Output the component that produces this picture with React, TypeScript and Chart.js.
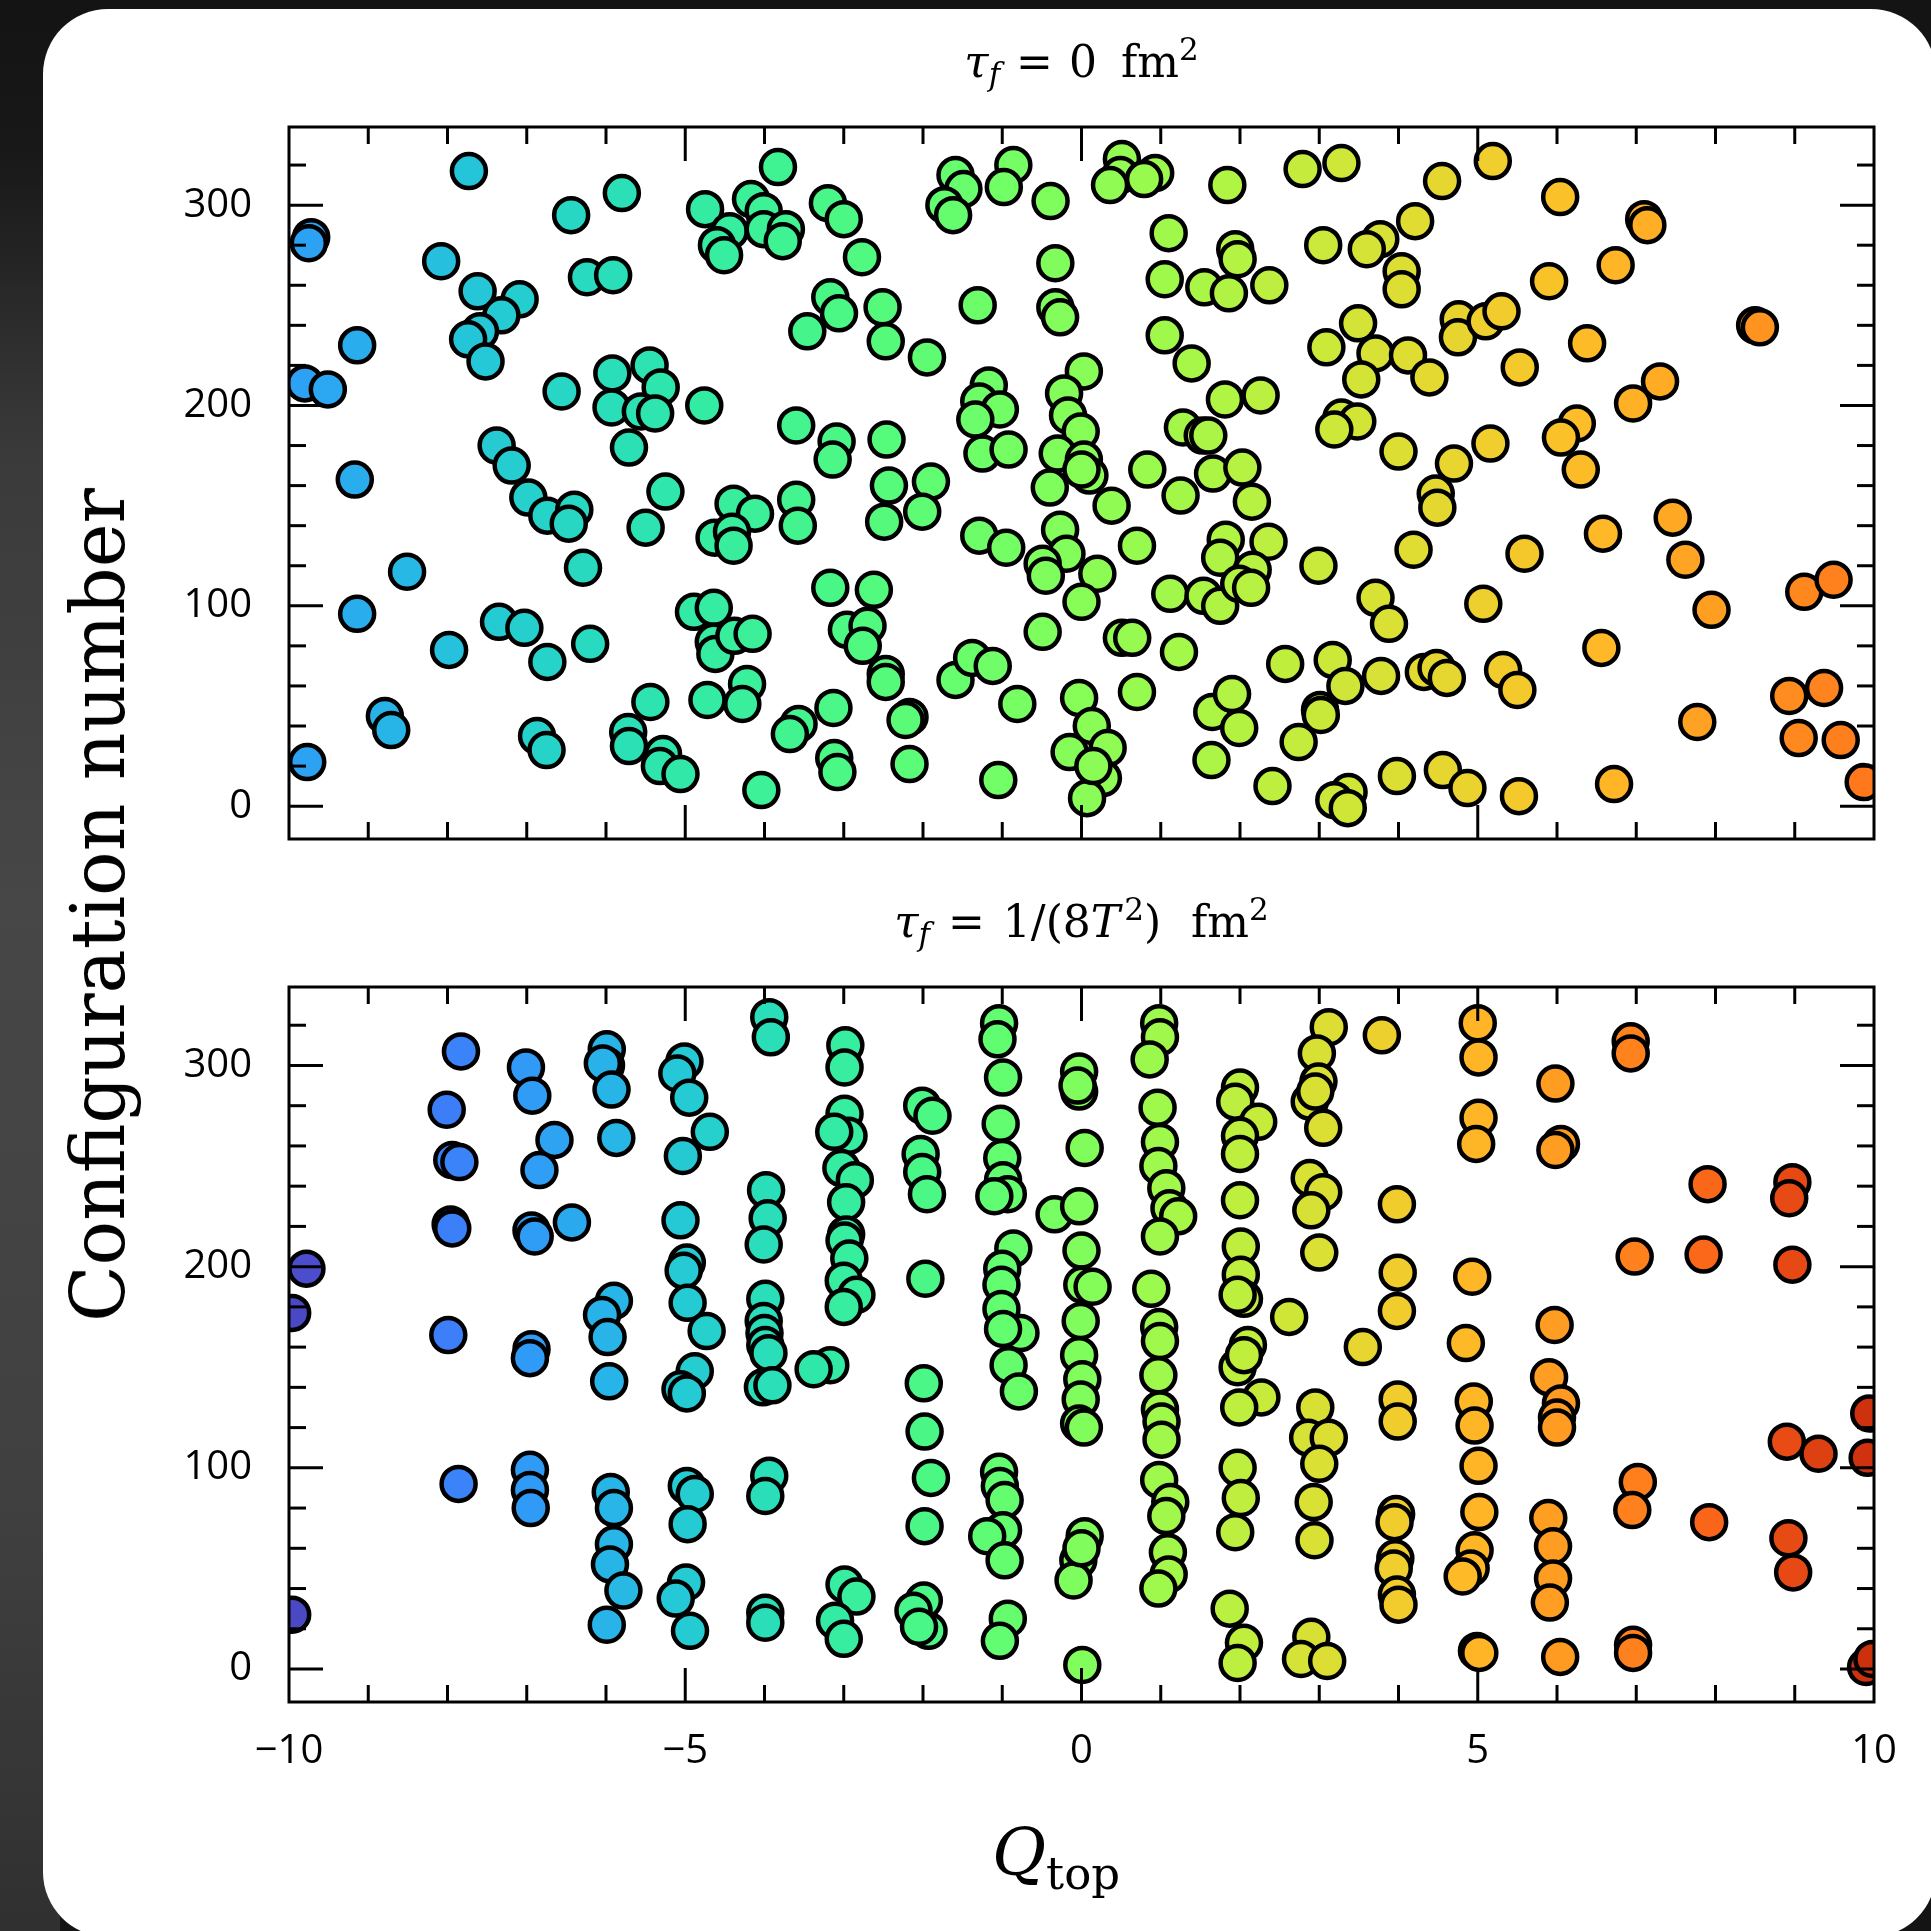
import React, { useEffect, useRef } from "react";
import { Chart, registerables } from "chart.js";

Chart.register(...registerables);

// ---------------- data ----------------
// Top panel: tau_f = 0 fm^2  (Q_top per configuration)
const topQ = [
  -7.73, -9.72, -9.75, -8.08, -6.44, -5.80, -6.24, -5.91, -7.62, -7.09,
  -7.32, -7.59, -7.74, -7.52, -9.14, -9.80, -9.51, -6.56, -5.92, -5.45,
  -5.31, -5.93, -5.56, -5.38, -5.71, -4.76, -3.60, -9.17, -7.38, -7.19,
  -6.98, -6.74, -6.40, -6.47, -5.25, -5.50, -4.39, -4.12, -4.63, -4.41,
  -4.39, -3.60, -3.58, -8.51, -6.29, -9.14, -7.98, -7.35, -7.03, -6.74,
  -6.20, -4.89, -4.64, -4.64, -4.62, -4.38, -4.15, -5.44, -4.72, -4.22,
  -4.28, -8.79, -8.71, -9.77, -6.87, -6.75, -5.72, -5.71, -5.28, -5.32,
  -5.06, -4.04, -3.57, -3.68, -4.75, -4.44, -4.60, -4.51, -4.17, -4.01,
  -4.01, -3.73, -3.77, -3.83,
  -3.20, -3.00, -2.77, -3.17, -3.06, -3.46, -2.51, -2.47, -1.95, -3.09,
  -3.14, -2.46, -2.43, -1.90, -2.49, -2.01, -3.17, -2.62, -2.96, -2.70,
  -2.76, -2.47, -2.47, -3.13, -3.12, -3.08, -2.17, -2.22, -2.17, -1.59,
  -1.38, -1.12, -0.81, -1.05, -0.49, -0.03, 0.13, -0.15, 0.33, 0.27,
  0.07, 0.15, 0.51, 0.64, 0.70, 1.23, 2.57, 1.65, 1.90, 1.99,
  1.64, 2.41, 2.74, 3.01, 3.02,
  -1.59, -1.49, -1.73, -1.62, -0.86, -0.98, -0.39, 0.51, 0.49, 0.36,
  0.93, 0.79, 1.84, 2.79, -0.33, 1.10, 1.94, 1.97, 1.05, 1.55,
  1.86, 2.37, 3.05, -1.31, -0.33, -0.27, 1.05, 1.39, 3.09, 0.03,
  -0.22, -0.17, -0.01, -0.30, 0.03, 0.10, 0.00, -0.40, 0.38, -1.17,
  -1.29, -1.03, -1.34, -1.25, -0.92, 0.83, 1.25, 1.81, 2.26, 1.28,
  1.53, 1.60, 1.66, 2.03, 2.15, 2.99, -1.29, -0.95, -0.27, -0.19,
  -0.49, -0.45, 0.20, 0.00, 0.70, 1.12, 1.82, 1.75, 2.36, 2.16,
  1.54, 1.75, 1.99, 2.14,
  3.28, 4.55, 5.19, 6.04, 7.10, 7.14, 4.21, 3.77, 3.60, 4.04,
  4.04, 6.74, 5.90, 8.50, 8.56, 3.49, 3.71, 4.12, 4.39, 3.53,
  4.76, 4.75, 5.10, 5.30, 6.38, 5.53, 7.30, 6.96, 3.28, 3.48,
  3.19, 4.00, 5.16, 4.70, 6.25, 6.05, 6.30, 4.47, 4.49, 7.46,
  6.58, 7.62, 4.19, 5.59, 7.95, 3.71, 3.88, 5.07, 9.12, 9.49,
  6.56, 3.17, 3.33, 3.78, 4.32, 4.48, 4.61, 5.32, 5.50, 7.77,
  8.93, 9.37, 9.05, 9.58, 9.87, 3.98, 4.56, 4.87, 5.52, 6.72,
  3.37, 3.19, 3.36,
];
const topConfig = [
  317, 284, 281, 272, 295, 306, 264, 265, 257, 253,
  245, 237, 233, 222, 230, 211, 208, 207, 216, 220,
  209, 199, 197, 196, 179, 200, 190, 163, 180, 170,
  154, 145, 148, 141, 157, 139, 151, 146, 134, 137,
  130, 153, 140, 117, 119, 96, 78, 92, 89, 72,
  81, 97, 99, 82, 76, 85, 86, 52, 53, 61,
  51, 45, 38, 22, 35, 28, 37, 30, 26, 20,
  16, 8, 41, 36, 298, 287, 280, 275, 303, 297,
  288, 288, 282, 319,
  301, 293, 274, 254, 246, 237, 249, 232, 224, 182,
  173, 183, 160, 162, 142, 147, 109, 108, 88, 90,
  80, 66, 62, 49, 24, 17, 44.5, 43, 21, 63,
  74, 70, 51, 13, 87, 54, 40, 27, 29, 14,
  4, 20, 84, 84, 57, 77, 71, 47, 56, 39,
  23, 10, 32, 48, 45.5,
  315, 308, 300, 295, 320, 309, 302, 323, 315, 310,
  316, 313, 310, 318, 271, 286, 278, 273, 263, 259,
  256, 260, 280, 250, 249, 244, 235, 221, 229, 217,
  206, 195, 187, 176, 173, 165, 168, 159, 150, 210,
  202, 198, 193, 176, 178, 168, 155, 203, 205, 189,
  185, 185, 166, 169, 152, 120, 135, 129, 138, 126,
  121, 115, 116, 102, 130, 106, 133, 124, 132, 118,
  105, 100, 111, 109,
  321, 312, 322, 304, 293, 290, 292, 283, 278, 267,
  258, 270, 262, 240, 239, 241, 226, 225, 214, 213,
  243, 234, 242, 247, 231, 219, 212, 201, 194, 192,
  188, 177, 181, 171, 191, 184, 168, 156, 149, 144,
  136, 123, 128, 126, 98, 104, 91, 101, 107, 113,
  79, 73, 60, 65, 67, 69, 64, 68, 58, 42,
  55, 59, 34, 33, 12, 15, 18, 9, 5, 11,
  7, 3, -1,
];

// Bottom panel: tau_f = 1/(8T^2) fm^2
const bottomQ = [
  -7.83, -8.01, -7.94, -7.85, -7.96, -7.94, -7.99, -7.86, -9.78, -9.96,
  -9.96, -7.01, -6.93, -6.65, -6.84, -6.94, -6.90, -6.43, -6.94, -6.96,
  -6.96, -6.96, -6.95, -5.99, -6.00, -6.04, -5.93, -5.87, -5.90, -6.05,
  -5.98, -5.96, -5.94, -5.90, -5.90, -5.95, -5.78, -5.99, -5.01, -5.10,
  -4.95, -4.69, -5.03, -5.06, -4.98, -5.02, -4.97, -4.73, -4.88, -5.06,
  -4.98, -4.98, -4.88, -4.97, -4.99, -5.12, -4.94, -3.94, -3.92, -3.98,
  -3.96, -4.01, -3.99, -4.01, -4.00, -3.99, -3.95, -4.02, -3.90, -3.94,
  -3.99, -3.99, -3.99,
  -2.98, -2.99, -2.99, -2.94, -3.12, -3.03, -2.86, -2.97, -2.97, -2.99,
  -2.93, -3.00, -2.84, -3.00, -3.17, -3.38, -2.99, -2.84, -3.11, -3.00,
  -2.01, -1.88, -2.03, -2.01, -1.95, -1.97, -1.99, -1.98, -1.90, -1.98,
  -1.99, -2.12, -1.93, -2.05, -1.04, -1.06, -0.99, -1.02, -1.00, -0.99,
  -0.93, -1.10, -0.86, -1.00, -1.01, -1.01, -0.77, -0.99, -0.92, -0.79,
  -1.04, -1.03, -0.97, -0.99, -1.19, -0.97, -0.93, -1.03, -0.34, -0.03,
  -0.03, -0.03, -0.05, 0.04, 0.00, 0.01, 0.14, -0.01, -0.03, 0.01,
  -0.01, -0.03, 0.03, 0.04, -0.04, -0.10, 0.00, 0.01, 0.98, 0.99,
  0.86, 0.96, 0.99, 0.97, 1.07, 1.11, 1.22, 0.99, 0.88, 0.98,
  0.99, 0.97, 0.99, 1.01, 1.01, 0.98, 1.12, 1.07, 1.09, 1.10,
  0.97, 2.00, 1.94, 2.23, 2.00, 2.00, 2.00, 2.01, 2.01, 2.05,
  1.97, 2.10, 1.97, 2.05, 2.27, 1.99, 2.62, 1.97, 2.01, 1.94,
  1.87, 2.05, 1.97, 3.12, 2.97, 2.99, 2.88, 2.95, 3.05, 2.88,
  3.05, 2.90, 3.00, 2.95, 2.86, 3.12, 3.00, 2.93, 2.94, 2.90,
  2.77, 3.10,
  3.79, 5.00, 5.01, 6.93, 6.93, 5.98, 5.01, 4.98, 6.05, 5.98,
  7.90, 8.97, 8.93, 3.98, 6.98, 7.85, 8.97, 3.99, 3.98, 4.93,
  3.55, 4.85, 5.97, 5.90, 6.05, 6.00, 6.00, 3.99, 3.99, 4.95,
  4.96, 5.01, 8.90, 9.30, 9.94, 9.92, 7.02, 6.95, 7.92, 3.97,
  3.95, 3.96, 3.94, 3.98, 4.00, 5.02, 4.96, 4.91, 4.81, 5.89,
  5.95, 5.95, 5.91, 8.92, 8.98, 4.99, 5.02, 6.04, 6.96, 6.96,
  9.90, 9.98,
];
const bottomConfig = [
  307, 278, 253, 252, 221, 219, 166, 92, 199, 177,
  27, 299, 285, 263, 248, 218, 215, 222, 159, 154.5,
  99, 89, 80, 308, 300, 301, 288, 264, 183, 176,
  165, 143, 88, 80, 62, 52, 39, 22, 302, 296,
  284, 267, 255, 223, 202, 198, 182, 168, 148, 139,
  137, 91, 87, 72, 43, 35, 19, 324, 314, 238,
  224, 211, 184, 173, 167, 161, 157, 140, 141, 96,
  86, 28, 23,
  310, 299, 276, 265, 267, 249, 243, 232, 216, 213,
  204, 193, 186, 180, 151, 149, 42, 36, 24, 15,
  280, 275, 256, 247, 236, 194, 142, 118, 95, 71,
  34, 29, 19, 21, 321, 313, 294, 271, 254, 243,
  236, 235, 209, 199, 191, 179, 167, 169, 151, 138,
  98, 91, 84, 69, 66, 54, 25, 14, 226, 230,
  297, 287, 290, 259, 208, 191, 190, 173, 156, 144,
  134, 122, 120, 66, 54, 44, 60, 2, 321, 314,
  303, 279, 262, 250, 239, 229, 225, 215, 189, 170,
  163, 146, 129, 123, 114, 94, 83, 76, 58, 47,
  40, 289, 282, 272, 265, 256, 233, 210, 196, 184,
  186, 161, 150, 156, 135, 130, 175, 100, 85, 68,
  30, 13, 3, 319, 306, 292, 282, 287, 269, 244,
  237, 228, 207, 130, 115, 115, 102, 83, 64, 16,
  5, 4,
  315, 321, 304, 312, 306, 291, 274, 261, 261, 258,
  241, 242, 234, 231, 205, 206, 201, 197, 178, 195,
  160, 162, 171, 145, 132, 125, 120, 134, 123, 133,
  121, 101, 113, 107, 127, 105, 93, 79, 73, 77,
  73, 55, 50, 37, 32, 78, 59, 50, 46, 75,
  61, 45, 33, 65, 48, 9, 8, 6, 12, 8,
  1, 5,
];

const xTickLabels = [-10, -5, 0, 5, 10];
const yTickLabels = [0, 100, 200, 300];

// ---------------- helpers ----------------
function turbo(t: number): string {
  const x = Math.min(1, Math.max(0, t));
  const r = 0.13572138 + x * (4.6153926 + x * (-42.66032258 + x * (132.13108234 + x * (-152.94239396 + x * 59.28637943))));
  const g = 0.09140261 + x * (2.19418839 + x * (4.84296658 + x * (-14.18503333 + x * (4.27729857 + x * 2.82956604))));
  const b = 0.1066733 + x * (12.64194608 + x * (-60.58204836 + x * (110.36276771 + x * (-89.90310912 + x * 27.34824973))));
  const c = (v: number) => Math.round(255 * Math.min(1, Math.max(0, v)));
  return `rgb(${c(r)},${c(g)},${c(b)})`;
}

type Part = { text?: string; gap?: number; size: number; italic?: boolean; dy?: number };

const SERIF = "'DejaVu Serif', 'Liberation Serif', serif";
const SANS = "'Open Sans', 'DejaVu Sans', sans-serif";

function makeTitlePlugin(parts: Part[], offset: number) {
  return {
    id: "richTitle",
    afterDraw(chart: any) {
      const ctx = chart.ctx as CanvasRenderingContext2D;
      const a = chart.chartArea;
      ctx.save();
      ctx.fillStyle = "#000";
      ctx.textBaseline = "alphabetic";
      ctx.textAlign = "left";
      const widths = parts.map((p) => {
        if (p.text === undefined) return p.gap || 0;
        ctx.font = `${p.italic ? "italic " : ""}${p.size}px ${SERIF}`;
        return ctx.measureText(p.text).width;
      });
      const total = widths.reduce((s, w) => s + w, 0);
      let x = (a.left + a.right) / 2 - total / 2;
      const base = a.top - offset;
      parts.forEach((p, i) => {
        if (p.text !== undefined) {
          ctx.font = `${p.italic ? "italic " : ""}${p.size}px ${SERIF}`;
          ctx.fillText(p.text, x, base + (p.dy || 0));
        }
        x += widths[i];
      });
      ctx.restore();
    },
  };
}

const frameTicksPlugin = {
  id: "frameTicks",
  afterDatasetsDraw(chart: any) {
    const ctx = chart.ctx as CanvasRenderingContext2D;
    const a = chart.chartArea;
    const xs = chart.scales.x;
    const ys = chart.scales.y;
    ctx.save();
    ctx.strokeStyle = "#000";
    ctx.lineWidth = 3;
    ctx.lineCap = "butt";
    const seg = (x1: number, y1: number, x2: number, y2: number) => {
      ctx.beginPath();
      ctx.moveTo(x1, y1);
      ctx.lineTo(x2, y2);
      ctx.stroke();
    };
    for (let v = Math.ceil(xs.min) + 1; v < xs.max; v += 1) {
      const px = xs.getPixelForValue(v);
      const len = v % 5 === 0 ? 34 : 17;
      seg(px, a.bottom, px, a.bottom - len);
      seg(px, a.top, px, a.top + len);
    }
    for (let v = 0; v < ys.max; v += 20) {
      const py = ys.getPixelForValue(v);
      const len = v % 100 === 0 ? 34 : 17;
      seg(a.left, py, a.left + len, py);
      seg(a.right, py, a.right - len, py);
    }
    ctx.strokeRect(a.left, a.top, a.right - a.left, a.bottom - a.top);
    ctx.restore();
  },
};

function fmtX(v: number): string {
  return v < 0 ? "\u2212" + Math.abs(v) : String(v);
}

function makeChart(
  canvas: HTMLCanvasElement,
  qs: number[],
  cfgs: number[],
  opts: { padTop: number; xAxisHeight: number; showX: boolean; vmin: number; vmax: number; parts: Part[] }
) {
  const pts = qs.map((q, i) => ({ x: q, y: cfgs[i] }));
  const colors = qs.map((q) => turbo((q - opts.vmin) / (opts.vmax - opts.vmin)));
  return new Chart(canvas, {
    type: "scatter",
    data: {
      datasets: [
        {
          data: pts,
          pointRadius: 17,
          pointHoverRadius: 17,
          pointBorderWidth: 4.5,
          pointHoverBorderWidth: 4.5,
          pointBorderColor: "#000",
          pointBackgroundColor: colors,
          clip: 0,
        } as any,
      ],
    },
    options: {
      responsive: false,
      animation: false,
      devicePixelRatio: 1,
      events: [],
      layout: { padding: { left: 0, top: opts.padTop, right: 57, bottom: 0 } },
      plugins: { legend: { display: false }, tooltip: { enabled: false }, title: { display: false } },
      scales: {
        x: {
          type: "linear",
          min: -10,
          max: 10,
          grid: { display: false, drawTicks: false },
          border: { display: false },
          afterBuildTicks: (s: any) => {
            s.ticks = xTickLabels.map((v) => ({ value: v }));
          },
          afterFit: (s: any) => {
            s.height = opts.xAxisHeight;
          },
          ticks: {
            display: opts.showX,
            padding: 26,
            color: "#000",
            font: { family: SANS, size: 40 },
            maxRotation: 0,
            autoSkip: false,
            callback: (v: any) => fmtX(Number(v)),
          },
        },
        y: {
          type: "linear",
          min: -16.4,
          max: 339,
          grid: { display: false, drawTicks: false },
          border: { display: false },
          afterBuildTicks: (s: any) => {
            s.ticks = yTickLabels.map((v) => ({ value: v }));
          },
          afterFit: (s: any) => {
            s.width = 289;
          },
          ticks: {
            padding: 37,
            color: "#000",
            font: { family: SANS, size: 40 },
            autoSkip: false,
            callback: (v: any) => String(v),
          },
        },
      },
    } as any,
    plugins: [frameTicksPlugin as any, makeTitlePlugin(opts.parts, 50) as any],
  });
}

const topTitle: Part[] = [
  { text: "\u03C4", size: 44, italic: true },
  { text: "f", size: 31, italic: true, dy: 8 },
  { gap: 16, size: 0 },
  { text: "=", size: 44 },
  { gap: 16, size: 0 },
  { text: "0", size: 44 },
  { gap: 24, size: 0 },
  { text: "fm", size: 44 },
  { text: "2", size: 31, dy: -17 },
];
const bottomTitle: Part[] = [
  { text: "\u03C4", size: 44, italic: true },
  { text: "f", size: 31, italic: true, dy: 8 },
  { gap: 18, size: 0 },
  { text: "=", size: 44 },
  { gap: 18, size: 0 },
  { text: "1/(8", size: 44 },
  { text: "T", size: 44, italic: true },
  { gap: 4, size: 0 },
  { text: "2", size: 31, dy: -17 },
  { text: ")", size: 44 },
  { gap: 30, size: 0 },
  { text: "fm", size: 44 },
  { text: "2", size: 31, dy: -17 },
];

export default function App() {
  const topRef = useRef<HTMLCanvasElement>(null);
  const botRef = useRef<HTMLCanvasElement>(null);

  useEffect(() => {
    const c1 = makeChart(topRef.current!, topQ, topConfig, {
      padTop: 127,
      xAxisHeight: 57,
      showX: false,
      vmin: -17.1,
      vmax: 18.4,
      parts: topTitle,
    });
    const c2 = makeChart(botRef.current!, bottomQ, bottomConfig, {
      padTop: 127,
      xAxisHeight: 229,
      showX: true,
      vmin: -11.9,
      vmax: 13.3,
      parts: bottomTitle,
    });
    return () => {
      c1.destroy();
      c2.destroy();
    };
  }, []);

  return (
    <div
      style={{
        position: "fixed",
        left: 0,
        top: 0,
        width: 1931,
        height: 1931,
        overflow: "hidden",
        background: "#141414",
      }}
    >
      <div
        style={{
          position: "absolute",
          left: 0,
          top: 0,
          width: 60,
          height: 1931,
          background:
            "linear-gradient(180deg, #141414 0px, #181818 150px, #3a3a3a 450px, #474747 900px, #404040 1500px, #303030 1931px)",
        }}
      />
      <div
        style={{
          position: "absolute",
          left: 43,
          top: 9,
          width: 1893,
          height: 1928,
          background: "#ffffff",
          borderRadius: 65,
        }}
      />
      <canvas ref={topRef} width={1931} height={900} style={{ position: "absolute", left: 0, top: 0 }} />
      <canvas ref={botRef} width={1931} height={1071} style={{ position: "absolute", left: 0, top: 860 }} />
      <div
        style={{
          position: "absolute",
          left: 98,
          top: 905,
          transform: "translate(-50%, -50%) rotate(-90deg)",
          fontFamily: "'DejaVu Serif', serif",
          fontSize: 74,
          lineHeight: 1,
          whiteSpace: "nowrap",
          color: "#000",
        }}
      >
        Configuration number
      </div>
      <div
        style={{
          position: "absolute",
          left: 1056,
          top: 1853,
          transform: "translate(-50%, -50%)",
          fontFamily: "'DejaVu Serif', serif",
          fontSize: 66,
          lineHeight: 1,
          whiteSpace: "nowrap",
          color: "#000",
        }}
      >
        <i>Q</i>
        <span style={{ fontSize: 45, position: "relative", top: 14 }}>top</span>
      </div>
    </div>
  );
}
